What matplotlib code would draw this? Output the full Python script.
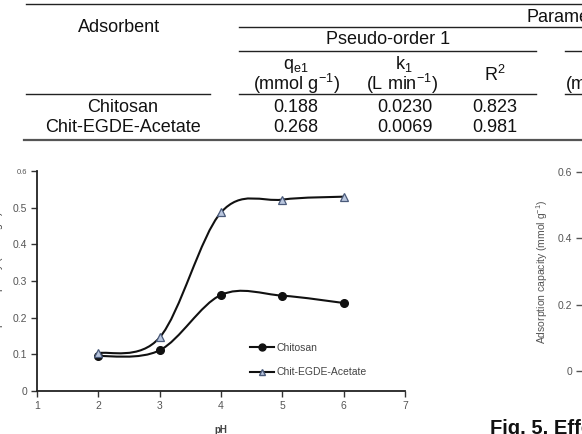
import numpy as np
import matplotlib
matplotlib.use('Agg')
import matplotlib.pyplot as plt
from matplotlib.path import Path
from matplotlib.patches import PathPatch
from matplotlib.lines import Line2D

plt.rcParams['font.family'] = ['Liberation Sans', 'DejaVu Sans']
plt.rcParams['mathtext.fontset'] = 'custom'
plt.rcParams['mathtext.rm'] = 'Liberation Sans'
plt.rcParams['mathtext.it'] = 'Liberation Sans:italic'

W, H = 582, 434

# ── Data ─────────────────────────────────────────────────────────────
ph = [2, 3, 4, 5, 6]
chitosan = [0.095, 0.111, 0.262, 0.260, 0.240]
chit_egde = [0.103, 0.146, 0.487, 0.522, 0.530]

adsorbents = ['Chitosan', 'Chit-EGDE-Acetate']
qe1 = ['0.188', '0.268']
k1 = ['0.0230', '0.0069']
r2 = ['0.823', '0.981']

x_ticks = [1, 2, 3, 4, 5, 6, 7]
y_ticks = [0, 0.1, 0.2, 0.3, 0.4, 0.5, 0.6]
y_ticks_right = [0, 0.2, 0.4, 0.6]


def fx(x):
    return x / W


def fy(y):
    return 1 - y / H


def smooth_path(xs, ys):
    # Excel-style smoothed line (cubic Bezier through the points)
    pts = np.column_stack([xs, ys]).astype(float)
    n = len(pts)
    verts, codes = [pts[0]], [Path.MOVETO]
    for i in range(n - 1):
        p0 = pts[i - 1] if i > 0 else pts[i]
        p1, p2 = pts[i], pts[i + 1]
        p3 = pts[i + 2] if i + 2 < n else pts[i + 1]
        verts += [p1 + (p2 - p0) / 6, p2 - (p3 - p1) / 6, p2]
        codes += [Path.CURVE4] * 3
    return Path(verts, codes)


fig = plt.figure(figsize=(W / 100, H / 100), dpi=100)

# ── Table (top) ──────────────────────────────────────────────────────
def hline(y, x0, x1, lw=1.0, color='#222222'):
    fig.add_artist(Line2D([fx(x0), fx(x1)], [fy(y), fy(y)], lw=lw, color=color,
                          transform=fig.transFigure))


def ftext(x, y, s, ha='center', size=13, va='center', **kw):
    fig.text(fx(x), fy(y), s, ha=ha, va=va, fontsize=size, color='#111111', **kw)


hline(4, 26, 582)
hline(27, 239, 582)
hline(51, 239, 536); hline(51, 565, 582)
hline(94, 26, 210); hline(94, 239, 536); hline(94, 565, 582)
hline(140, 24, 582, lw=1.6, color='#555555')

ftext(119, 27, 'Adsorbent')
ftext(527, 17, 'Parameters', ha='left')
ftext(388, 40, 'Pseudo-order 1')
ftext(296, 69, r'q$_{\mathrm{e1}}$', va='baseline')
ftext(296, 90, r'(mmol g$^{\mathrm{-1}}$)', va='baseline')
ftext(404, 69, r'k$_{\mathrm{1}}$', va='baseline')
ftext(402, 90, r'(L min$^{\mathrm{-1}}$)', va='baseline')
ftext(495, 81, r'R$^{\mathrm{2}}$', va='baseline')
ftext(565, 90, r'(mmol g$^{\mathrm{-1}}$)', ha='left', va='baseline')

for i, name in enumerate(adsorbents):
    yy = 107 + 21 * i
    ftext(123, yy, name)
    ftext(296, yy, qe1[i])
    ftext(405, yy, k1[i])
    ftext(495, yy, r2[i])

# ── Main chart ───────────────────────────────────────────────────────
ax = fig.add_axes([fx(37), fy(391), (405 - 37) / W, (391 - 171) / H])
ax.set_xlim(1, 7)
ax.set_ylim(0, 0.6)
for s in ['top', 'right']:
    ax.spines[s].set_visible(False)
for s in ['left', 'bottom']:
    ax.spines[s].set_linewidth(1.3)
    ax.spines[s].set_color('#222222')
ax.set_xticks(x_ticks)
ax.set_yticks(y_ticks)
ax.set_yticklabels(['0'] + [f'{v:.1f}' for v in y_ticks[1:]])
ax.tick_params(direction='out', length=4, width=1, color='#333333',
               labelsize=7.5, labelcolor='#555555', pad=3)
ax.get_yticklabels()[-1].set_fontsize(5.5)
ax.set_xlabel('pH', fontsize=7, fontweight='bold', color='#444444', labelpad=10)

for ys in (chitosan, chit_egde):
    ax.add_patch(PathPatch(smooth_path(ph, ys), facecolor='none',
                           edgecolor='#111111', lw=1.5))
ax.plot(ph, chitosan, ls='none', marker='o', ms=5.5, mfc='#111111', mec='#111111')
ax.plot(ph, chit_egde, ls='none', marker='^', ms=5.5, mfc='#b9c6de', mec='#4a5a7a', mew=0.9)

handles = [Line2D([], [], color='#111111', lw=1.5, marker='o', ms=5, mfc='#111111'),
           Line2D([], [], color='#111111', lw=1.5, marker='^', ms=5,
                  mfc='#b9c6de', mec='#4a5a7a')]
leg = ax.legend(handles, ['Chitosan', 'Chit-EGDE-Acetate'], frameon=False,
                loc='upper left', bbox_to_anchor=(0.579, 0.22), fontsize=7.5,
                handlelength=2.3, handletextpad=0.25, labelspacing=1.4,
                borderpad=0, borderaxespad=0)
for t in leg.get_texts():
    t.set_color('#444444')

fig.text(fx(-2), fy(283), r'Adsorption capacity (mmol g$^{\mathrm{-1}}$)', rotation=90,
         ha='center', va='center', fontsize=7.5, color='#444444')

# ── Partial right chart ──────────────────────────────────────────────
ax2 = fig.add_axes([fx(582), fy(371), 0.3, (371 - 172) / H])
ax2.set_ylim(0, 0.6)
ax2.set_xticks([])
ax2.set_yticks(y_ticks_right)
ax2.set_yticklabels(['0', '0.2', '0.4', '0.6'])
ax2.tick_params(direction='out', length=4, width=1, color='#555555',
                labelsize=7.5, labelcolor='#555555', pad=3)
for s in ax2.spines.values():
    s.set_visible(False)

fig.text(fx(542), fy(272), r'Adsorption capacity (mmol g$^{\mathrm{-1}}$)', rotation=90,
         ha='center', va='center', fontsize=7.5, color='#555555')
fig.text(fx(490), fy(419), 'Fig. 5. Effect', ha='left', va='top',
         fontsize=14.5, fontweight='bold', color='#111111')

fig.savefig('out.png', dpi=100)
